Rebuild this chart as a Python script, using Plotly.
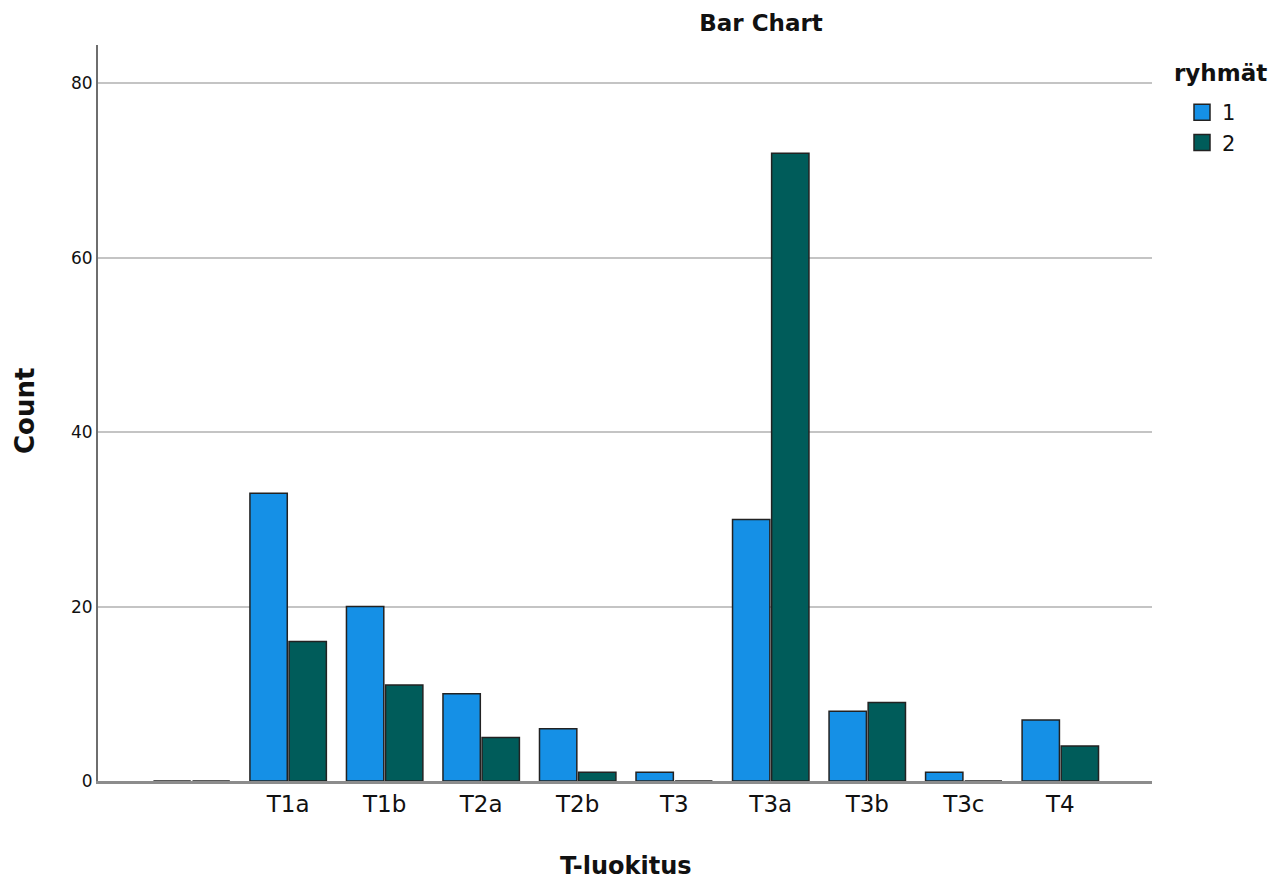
import plotly.graph_objects as go

categories = ["", "T1a", "T1b", "T2a", "T2b", "T3", "T3a", "T3b", "T3c", "T4"]
group1 = [0, 33, 20, 10, 6, 1, 30, 8, 1, 7]
group2 = [0, 16, 11, 5, 1, 0, 72, 9, 0, 4]
series_names = ["1", "2"]
colors = ["#1590E6", "#005C5A"]

# page body has an 8px margin, so figure coords = page coords - 8
W, H = 1274, 873
L, R, T, B = 90, 130, 37, 100
PW = W - L - R
PH = H - T - B

TICKFONT = "DejaVu Sans, Verdana, sans-serif"


def px_to_paper(xf, yf):
    """figure pixel coords (from top-left) -> paper coords"""
    return (xf - L) / PW, (H - B - yf) / PH


fig = go.Figure()
for name, vals, col in zip(series_names, [group1, group2], colors):
    fig.add_trace(go.Bar(
        x=list(range(len(categories))), y=vals, name=name, showlegend=False,
        marker=dict(color=col, line=dict(color="#222222", width=1.5)),
    ))
# legend entries with larger square swatches
for name, col in zip(series_names, colors):
    fig.add_trace(go.Scatter(
        x=[None], y=[None], mode="markers", name=name,
        marker=dict(symbol="square", size=16, color=col,
                    line=dict(color="#222222", width=1.5)),
    ))

ax, ay = px_to_paper(1212, 65)
fig.add_annotation(text="<b>ryhmät</b>", xref="paper", yref="paper", x=ax, y=ay,
                   xanchor="center", yanchor="middle", showarrow=False,
                   font=dict(size=23, color="#111111"))
ax, ay = px_to_paper(618, 858)
fig.add_annotation(text="<b>T-luokitus</b>", xref="paper", yref="paper", x=ax, y=ay,
                   xanchor="center", yanchor="middle", showarrow=False,
                   font=dict(size=24, color="#111111"))
ax, ay = px_to_paper(17, 403)
fig.add_annotation(text="<b>Count</b>", xref="paper", yref="paper", x=ax, y=ay,
                   xanchor="center", yanchor="middle", showarrow=False, textangle=-90,
                   font=dict(size=26, color="#111111"))

lx, ly = px_to_paper(1174, 84)
fig.update_layout(
    width=W, height=H,
    margin=dict(l=L, r=R, t=T, b=B),
    plot_bgcolor="white", paper_bgcolor="white",
    barmode="group", bargap=0.19, bargroupgap=0.045,
    font=dict(family=TICKFONT, color="#111111"),
    title=dict(text="<b>Bar Chart</b>", xref="container", x=753 / W,
               xanchor="center", yref="container", y=1 - 15 / H, yanchor="middle",
               font=dict(size=23, color="#111111")),
    xaxis=dict(
        tickmode="array", tickvals=list(range(len(categories))), ticktext=categories,
        range=[-0.97, 9.95], showgrid=False, ticks="",
        tickfont=dict(size=23, color="#111111"),
        showline=True, linecolor="#8c8c8c", linewidth=3,
        zeroline=False, automargin=False,
    ),
    yaxis=dict(
        range=[0, 84.4], tickvals=[0, 20, 40, 60, 80],
        showgrid=True, gridcolor="#c4c4c4", gridwidth=1.5,
        ticks="",
        tickfont=dict(size=17, color="#111111"),
        showline=True, linecolor="#6e6e6e", linewidth=2,
        zeroline=False, automargin=False,
    ),
    legend=dict(
        x=lx, xanchor="left", y=ly, yanchor="top",
        font=dict(size=21), itemsizing="trace", tracegroupgap=0,
        bgcolor="rgba(0,0,0,0)",
    ),
)

fig.write_html("out.html")
